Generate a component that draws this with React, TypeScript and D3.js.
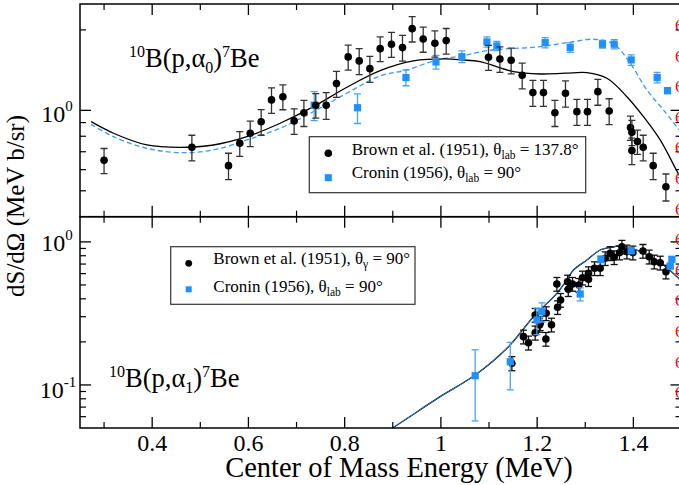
import React from 'react';
import * as d3 from 'd3';

const W = 679, H = 485;
const X0 = 80, X1 = 681.5;
const TOP_Y0 = 4, MID_Y = 216.7, BOT_Y1 = 428;
const FONT = "'Liberation Serif', 'Times New Roman', serif";

// x axis
const xDomain = [0.25, 1.5];
const xMajor = [0.4, 0.6, 0.8, 1.0, 1.2, 1.4];
const xMajorLabels = ['0.4', '0.6', '0.8', '1', '1.2', '1.4'];
const xMinor = [0.3, 0.5, 0.7, 0.9, 1.1, 1.3, 1.5];

// top panel y axis
const topDomain = [0.4, 2.5];
const topMajor = [1];
const topMinor = [0.5, 0.6, 0.7, 0.8, 0.9, 2];
// bottom panel y axis
const botDomain = [0.05, 1.5];
const botMajor = [0.1, 1];
const botMinor = [0.06, 0.07, 0.08, 0.09, 0.2, 0.3, 0.4, 0.5, 0.6, 0.7, 0.8, 0.9];

// Top panel: Brown et al. (1951) alpha0
const brown0E = [0.300, 0.4825, 0.5586, 0.582, 0.6037, 0.6265, 0.648, 0.6716, 0.695, 0.7153, 0.740, 0.7616, 0.783, 0.8073, 0.8302, 0.8524, 0.8738, 0.8973, 0.9202, 0.9403, 0.9632, 0.9875, 1.011, 1.0989, 1.1226, 1.146, 1.1689, 1.1911, 1.2132, 1.2369, 1.2589, 1.2826, 1.3046, 1.3262, 1.3497, 1.394, 1.3969, 1.4085, 1.3969, 1.4204, 1.4412, 1.4676];
const brown0V = [0.650, 0.727, 0.621, 0.753, 0.821, 0.907, 1.094, 1.125, 0.913, 0.980, 1.045, 1.045, 1.259, 1.585, 1.531, 1.432, 1.702, 1.768, 1.717, 2.022, 1.850, 1.783, 1.824, 1.580, 1.557, 1.540, 1.353, 1.165, 1.165, 0.980, 1.159, 0.989, 0.989, 1.175, 0.995, 0.862, 0.828, 0.764, 0.707, 0.727, 0.621, 0.518];
const brown0Err = [0.07, 0.08, 0.07, 0.08, 0.09, 0.10, 0.12, 0.12, 0.10, 0.11, 0.11, 0.12, 0.14, 0.17, 0.17, 0.16, 0.18, 0.19, 0.19, 0.22, 0.20, 0.20, 0.20, 0.17, 0.17, 0.17, 0.15, 0.13, 0.13, 0.11, 0.13, 0.11, 0.11, 0.13, 0.11, 0.09, 0.09, 0.08, 0.08, 0.08, 0.07, 0.06];

// Top panel: Cronin (1956) alpha0
const cronin0E = [0.7367, 0.8267, 0.9274, 0.9898, 1.0436, 1.0956, 1.1163, 1.2167, 1.2687, 1.3358, 1.3601, 1.3954, 1.4495, 1.4709];
const cronin0V = [1.045, 1.023, 1.326, 1.517, 1.588, 1.803, 1.742, 1.792, 1.717, 1.768, 1.768, 1.544, 1.326, 1.185];
const cronin0Err = [0.13, 0.13, 0.09, 0.09, 0.08, 0.08, 0.07, 0.08, 0.07, 0.06, 0.07, 0.07, 0.06, 0.03];

// Top panel theory curves
const theory0BlackE = [0.2732, 0.3196, 0.389, 0.4582, 0.5274, 0.5968, 0.666, 0.7352, 0.8046, 0.8738, 0.943, 1.0124, 1.0436, 1.0816, 1.1508, 1.2063, 1.2583, 1.3034, 1.345, 1.3865, 1.421, 1.4557, 1.4937, 1.5014];
const theory0BlackV = [0.907, 0.821, 0.742, 0.727, 0.742, 0.797, 0.895, 1.032, 1.220, 1.408, 1.531, 1.557, 1.544, 1.521, 1.396, 1.368, 1.377, 1.384, 1.318, 1.125, 0.947, 0.775, 0.578, 0.549];
const theory0BlueE = [0.2732, 0.3196, 0.389, 0.4582, 0.5274, 0.5968, 0.666, 0.7352, 0.8046, 0.8738, 0.9293, 0.9917, 1.0436, 1.0956, 1.2063, 1.2755, 1.3171, 1.3587, 1.3934, 1.4281, 1.4626, 1.4937, 1.5014];
const theory0BlueV = [0.886, 0.797, 0.721, 0.695, 0.711, 0.775, 0.857, 0.989, 1.159, 1.345, 1.416, 1.544, 1.598, 1.673, 1.731, 1.808, 1.845, 1.772, 1.501, 1.192, 1.003, 0.852, 0.820];

// Bottom panel: Brown et al. (1951) alpha1
const brown1E = [1.1475, 1.1716, 1.182, 1.1959, 1.1959, 1.2049, 1.2063, 1.2182, 1.2188, 1.2298, 1.241, 1.2425, 1.2487, 1.2632, 1.2647, 1.2735, 1.2868, 1.2943, 1.3067, 1.3067, 1.3192, 1.331, 1.3414, 1.3518, 1.3601, 1.3711, 1.3761, 1.3865, 1.399, 1.4199, 1.4329, 1.4433, 1.4558, 1.4677];
const brown1V = [0.1417, 0.2175, 0.1974, 0.3083, 0.2318, 0.2625, 0.270, 0.2096, 0.3168, 0.2637, 0.5078, 0.349, 0.3925, 0.527, 0.4663, 0.5078, 0.4997, 0.5621, 0.6033, 0.5477, 0.6535, 0.6535, 0.768, 0.8324, 0.7804, 0.8406, 0.9257, 0.854, 0.8406, 0.8637, 0.788, 0.727, 0.715, 0.619];
const brown1Err = [0.016, 0.024, 0.022, 0.034, 0.026, 0.029, 0.03, 0.023, 0.035, 0.029, 0.056, 0.038, 0.043, 0.058, 0.051, 0.056, 0.055, 0.062, 0.066, 0.06, 0.072, 0.072, 0.084, 0.092, 0.086, 0.092, 0.10, 0.094, 0.092, 0.095, 0.087, 0.08, 0.079, 0.068];

// Bottom panel: Cronin (1956) alpha1
const cronin1E = [1.0712, 1.1442, 1.1995, 1.2099, 1.2895, 1.3325, 1.3954, 1.4766, 1.480];
const cronin1V = [0.116, 0.1454, 0.2845, 0.325, 0.432, 0.756, 0.868, 0.678, 0.756];
const cronin1Err = [0.06, 0.053, 0.06, 0.05, 0.045, 0.04, 0.04, 0.03, 0.03];

// Bottom panel theory curve
const theory1E = [0.88, 0.8981, 0.9985, 1.0712, 1.1404, 1.1924, 1.241, 1.2618, 1.2755, 1.3034, 1.331, 1.3518, 1.3726, 1.4002, 1.4418, 1.4703, 1.4937, 1.5014];
const theory1V = [0.046, 0.0498, 0.0828, 0.1173, 0.1851, 0.300, 0.437, 0.5416, 0.636, 0.747, 0.878, 0.914, 0.936, 0.892, 0.768, 0.657, 0.557, 0.529];

const redMarkCount = 13;

const BLUE = '#1e90ff';
const BLUE_BAR = '#4aa3f5';

const x = d3.scaleLinear().domain(xDomain).range([X0, X1]);
const yTop = d3.scaleLog().domain(topDomain).range([MID_Y, TOP_Y0]);
const yBot = d3.scaleLog().domain(botDomain).range([BOT_Y1, MID_Y]);

function zip(a: number[], b: number[]): [number, number][] {
  return a.map((v, i) => [v, b[i]]);
}

function curvePath(E: number[], V: number[], y: any) {
  const line = d3.line<[number, number]>()
    .x(d => x(d[0]))
    .y(d => y(d[1]))
    .curve(d3.curveCatmullRom.alpha(0.5));
  return line(zip(E, V)) || '';
}

function Ticks({ y, y0, y1, major, minor }: any) {
  const els: any[] = [];
  const ML = 11, mL = 6;
  xMajor.forEach((v, i) => {
    els.push(<line key={'xt' + i} x1={x(v)} x2={x(v)} y1={y1} y2={y1 + ML} stroke="#000" strokeWidth={1.3} />);
    els.push(<line key={'xb' + i} x1={x(v)} x2={x(v)} y1={y0} y2={y0 - ML} stroke="#000" strokeWidth={1.3} />);
  });
  xMinor.forEach((v, i) => {
    els.push(<line key={'xmt' + i} x1={x(v)} x2={x(v)} y1={y1} y2={y1 + mL} stroke="#000" strokeWidth={1.2} />);
    els.push(<line key={'xmb' + i} x1={x(v)} x2={x(v)} y1={y0} y2={y0 - mL} stroke="#000" strokeWidth={1.2} />);
  });
  major.forEach((v: number, i: number) => {
    els.push(<line key={'yl' + i} x1={X0} x2={X0 + ML} y1={y(v)} y2={y(v)} stroke="#000" strokeWidth={1.3} />);
    els.push(<line key={'yr' + i} x1={X1} x2={X1 - ML} y1={y(v)} y2={y(v)} stroke="#000" strokeWidth={1.3} />);
  });
  minor.forEach((v: number, i: number) => {
    els.push(<line key={'yml' + i} x1={X0} x2={X0 + mL} y1={y(v)} y2={y(v)} stroke="#000" strokeWidth={1.2} />);
    els.push(<line key={'ymr' + i} x1={X1} x2={X1 - mL} y1={y(v)} y2={y(v)} stroke="#000" strokeWidth={1.2} />);
  });
  return <g>{els}</g>;
}

function ErrPoints({ E, V, Err, y, shape, color, barColor, r }: any) {
  return (
    <g>
      {E.map((e: number, i: number) => {
        const cx = x(e);
        const cy = y(V[i]);
        const yHi = y(V[i] + Err[i]);
        const yLo = y(Math.max(V[i] - Err[i], 1e-4));
        const cw = 3.5;
        return (
          <g key={i}>
            <line x1={cx} x2={cx} y1={yHi} y2={yLo} stroke={barColor} strokeWidth={1.3} />
            <line x1={cx - cw} x2={cx + cw} y1={yHi} y2={yHi} stroke={barColor} strokeWidth={1.3} />
            <line x1={cx - cw} x2={cx + cw} y1={yLo} y2={yLo} stroke={barColor} strokeWidth={1.3} />
            {shape === 'circle'
              ? <circle cx={cx} cy={cy} r={r} fill={color} />
              : <rect x={cx - r} y={cy - r} width={2 * r} height={2 * r} fill={color} />}
          </g>
        );
      })}
    </g>
  );
}

export default function App() {
  const sup = 15;
  return (
    <svg width={W} height={H} style={{ position: 'absolute', left: 0, top: 0, background: '#fff' }}
      fontFamily={FONT}>
      <defs>
        <clipPath id="clipTop"><rect x={X0} y={TOP_Y0} width={X1 - X0} height={MID_Y - TOP_Y0} /></clipPath>
        <clipPath id="clipBot"><rect x={X0} y={MID_Y} width={X1 - X0} height={BOT_Y1 - MID_Y} /></clipPath>
      </defs>
      <rect x={0} y={0} width={W} height={H} fill="#fff" />

      {/* top panel data */}
      <g clipPath="url(#clipTop)">
        <path d={curvePath(theory0BlueE, theory0BlueV, yTop)} fill="none" stroke="#3a9cf5" strokeWidth={1.3} strokeDasharray="5,3" />
        <path d={curvePath(theory0BlackE, theory0BlackV, yTop)} fill="none" stroke="#000" strokeWidth={1.3} />
        <ErrPoints E={cronin0E} V={cronin0V} Err={cronin0Err} y={yTop} shape="square" color={BLUE} barColor={BLUE_BAR} r={3.6} />
        <ErrPoints E={brown0E} V={brown0V} Err={brown0Err} y={yTop} shape="circle" color="#000" barColor="#333" r={3.8} />
      </g>

      {/* bottom panel data */}
      <g clipPath="url(#clipBot)">
        <path d={curvePath(theory1E, theory1V, yBot)} fill="none" stroke="#000" strokeWidth={1.3} />
        <path d={curvePath(theory1E, theory1V, yBot)} fill="none" stroke="#1f78c8" strokeWidth={1} />
        <ErrPoints E={brown1E} V={brown1V} Err={brown1Err} y={yBot} shape="circle" color="#000" barColor="#111" r={3.8} />
        <ErrPoints E={cronin1E} V={cronin1V} Err={cronin1Err} y={yBot} shape="square" color={BLUE} barColor={BLUE_BAR} r={3.6} />
      </g>

      {/* frames */}
      <rect x={X0} y={TOP_Y0} width={X1 - X0} height={MID_Y - TOP_Y0} fill="none" stroke="#000" strokeWidth={1.5} />
      <rect x={X0} y={MID_Y} width={X1 - X0} height={BOT_Y1 - MID_Y} fill="none" stroke="#000" strokeWidth={1.5} />
      <Ticks y={yTop} y0={MID_Y} y1={TOP_Y0} major={topMajor} minor={topMinor} />
      <Ticks y={yBot} y0={BOT_Y1} y1={MID_Y} major={botMajor} minor={botMinor} />

      {/* y tick labels */}
      <text x={57} y={yTop(1) + 12} fontSize={24} textAnchor="middle">10<tspan fontSize={sup} dy={-11}>0</tspan></text>
      <text x={57} y={yBot(1) + 9} fontSize={24} textAnchor="middle">10<tspan fontSize={sup} dy={-11}>0</tspan></text>
      <text x={58} y={yBot(0.1) + 13} fontSize={24} textAnchor="middle">10<tspan fontSize={sup} dy={-11}>-1</tspan></text>

      {/* x tick labels */}
      {xMajor.map((v, i) => (
        <text key={i} x={x(v)} y={451} fontSize={24} textAnchor="middle">{xMajorLabels[i]}</text>
      ))}
      <text x={399} y={477} fontSize={28.5} textAnchor="middle">Center of Mass Energy (MeV)</text>
      <text transform={`translate(24,${206}) rotate(-90)`} fontSize={25} textAnchor="middle">dS/dΩ (MeV b/sr)</text>

      {/* panel labels */}
      <text x={129} y={67} fontSize={26.5}>
        <tspan fontSize={16}  dy={-10}>10</tspan><tspan dy={10}>B(p,α</tspan><tspan fontSize={16} dy={6}>0</tspan><tspan dy={-6}>)</tspan><tspan fontSize={16} dy={-10}>7</tspan><tspan dy={10}>Be</tspan>
      </text>
      <text x={109} y={387} fontSize={26.5}>
        <tspan fontSize={16} dy={-10}>10</tspan><tspan dy={10}>B(p,α</tspan><tspan fontSize={16} dy={6}>1</tspan><tspan dy={-6}>)</tspan><tspan fontSize={16} dy={-10}>7</tspan><tspan dy={10}>Be</tspan>
      </text>

      {/* top legend */}
      <rect x={309.3} y={136.7} width={276.4} height={56} fill="#fff" stroke="#333" strokeWidth={1.2} />
      <circle cx={328.3} cy={153.3} r={3.8} fill="#000" />
      <rect x={324.8} y={174.2} width={7} height={7} fill={BLUE} />
      <text x={351.7} y={155} fontSize={17}>Brown et al. (1951), θ<tspan fontSize={11.5} dy={4}>lab</tspan><tspan dy={-4}> = 137.8°</tspan></text>
      <text x={351.7} y={178.3} fontSize={17}>Cronin (1956), θ<tspan fontSize={11.5} dy={4}>lab</tspan><tspan dy={-4}> = 90°</tspan></text>

      {/* bottom legend */}
      <rect x={170.7} y={246.7} width={244.3} height={57.6} fill="#fff" stroke="#333" strokeWidth={1.2} />
      <circle cx={188.7} cy={263.3} r={3.4} fill="#000" />
      <rect x={185.7} y={286.3} width={6} height={6} fill={BLUE} />
      <text x={213.3} y={264.3} fontSize={17}>Brown et al. (1951), θ<tspan fontSize={11.5} dy={4}>γ</tspan><tspan dy={-4}> = 90°</tspan></text>
      <text x={213.3} y={291.7} fontSize={17}>Cronin (1956), θ<tspan fontSize={11.5} dy={4}>lab</tspan><tspan dy={-4}> = 90°</tspan></text>

      {/* clipped red annotations at right edge */}
      {d3.range(redMarkCount).map(k => (
        <text key={k} x={675} y={31 + 30.6 * k} fontSize={17} fill="#ff0000">6</text>
      ))}
    </svg>
  );
}
